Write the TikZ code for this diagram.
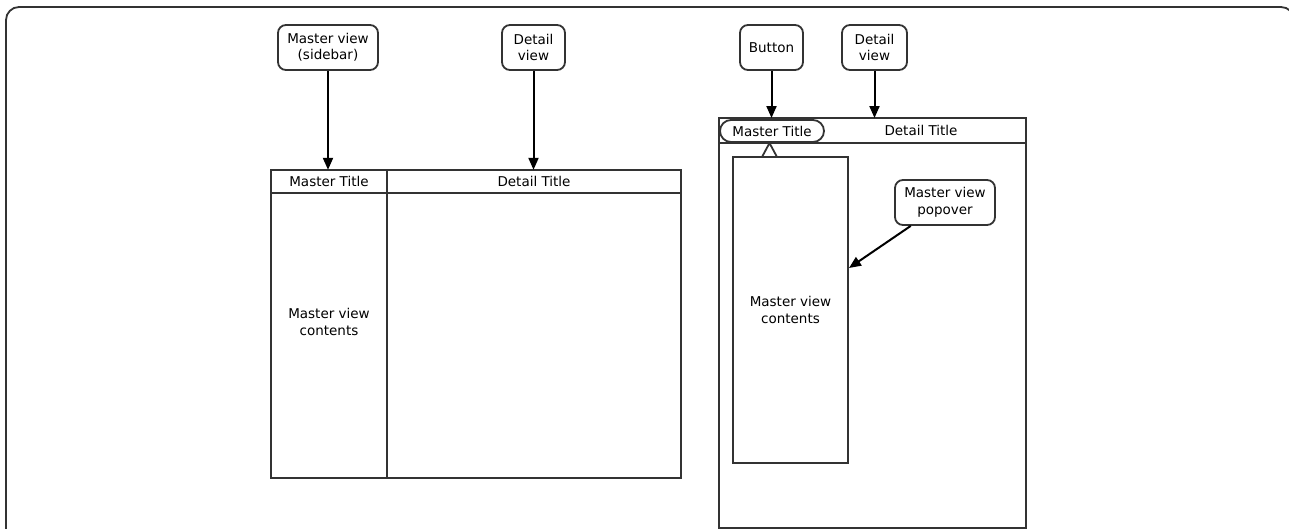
\documentclass[tikz,border=0pt]{standalone}
\usepackage{fontspec}
\setmainfont{DejaVu Sans}
\usepackage{tikz}
\usetikzlibrary{arrows.meta}

\begin{document}
\begin{tikzpicture}[x=1pt,y=-1pt,
	font=\fontsize{13.5}{16.5}\selectfont,
	line/.style={draw=black!80, line width=1.8pt},
	callout/.style={line, rounded corners=8pt, align=center, inner sep=0pt, minimum height=45pt},
	titlebar/.style={inner sep=0pt, minimum height=23pt},
	arrow/.style={black, line width=2pt, -{Triangle[length=12pt,width=10pt]}}]
\useasboundingbox (0,0) rectangle (1289,528);
\clip (0,0) rectangle (1289,528);
\draw[line, rounded corners=13pt] (6,560) -- (6,7) -- (1294,7) -- (1294,560);

% split view
\draw[line] (271,170) rectangle (681,478);
\draw[line] (271,193) -- (681,193);
\draw[line] (387,170) -- (387,478);
\node[titlebar, minimum width=116pt] (mtitle) at (329,181.5) {Master Title};
\node[titlebar, minimum width=294pt] (dtitle) at (534,181.5) {Detail Title};
\node[align=center] (mcontents) at (329,322) {Master view\\contents};

\node[callout, minimum width=100pt] (sidebar) at (328,47.5) {Master view\\(sidebar)};
\node[callout, minimum width=63pt] (detail) at (533.5,47.5) {Detail\\view};
\draw[arrow] (sidebar.south) -- (sidebar.south |- mtitle.north);
\draw[arrow] (detail.south) -- (detail.south |- dtitle.north);

% popover view
\draw[line] (719,118) rectangle (1026,528);
\draw[line] (719,143) -- (1026,143);
\node[line, rounded corners=11pt, minimum width=104pt, minimum height=22pt, inner sep=0pt] (btn) at (772,131) {Master Title};
\node[titlebar, minimum height=25pt] (dtitle2) at (921,130.5) {Detail Title};
\draw[line, fill=white] (762,157) -- (769.5,143) -- (777,157);
\node[line, align=center, minimum width=115pt, minimum height=306pt, inner sep=0pt] (popover) at (790.5,310) {Master view\\contents};

\node[callout, minimum width=63pt] (button) at (771.5,47.5) {Button};
\node[callout, minimum width=65pt] (detail2) at (874.5,47.5) {Detail\\view};
\node[callout, minimum width=100pt] (popbox) at (945,202.5) {Master view\\popover};
\coordinate (poptip) at (849,268);
\draw[arrow] (button.south) -- (button.south |- 0,118);
\draw[arrow] (detail2.south) -- (detail2.south |- 0,118);
\draw[arrow] (popbox) -- (poptip);
\end{tikzpicture}
\end{document}
